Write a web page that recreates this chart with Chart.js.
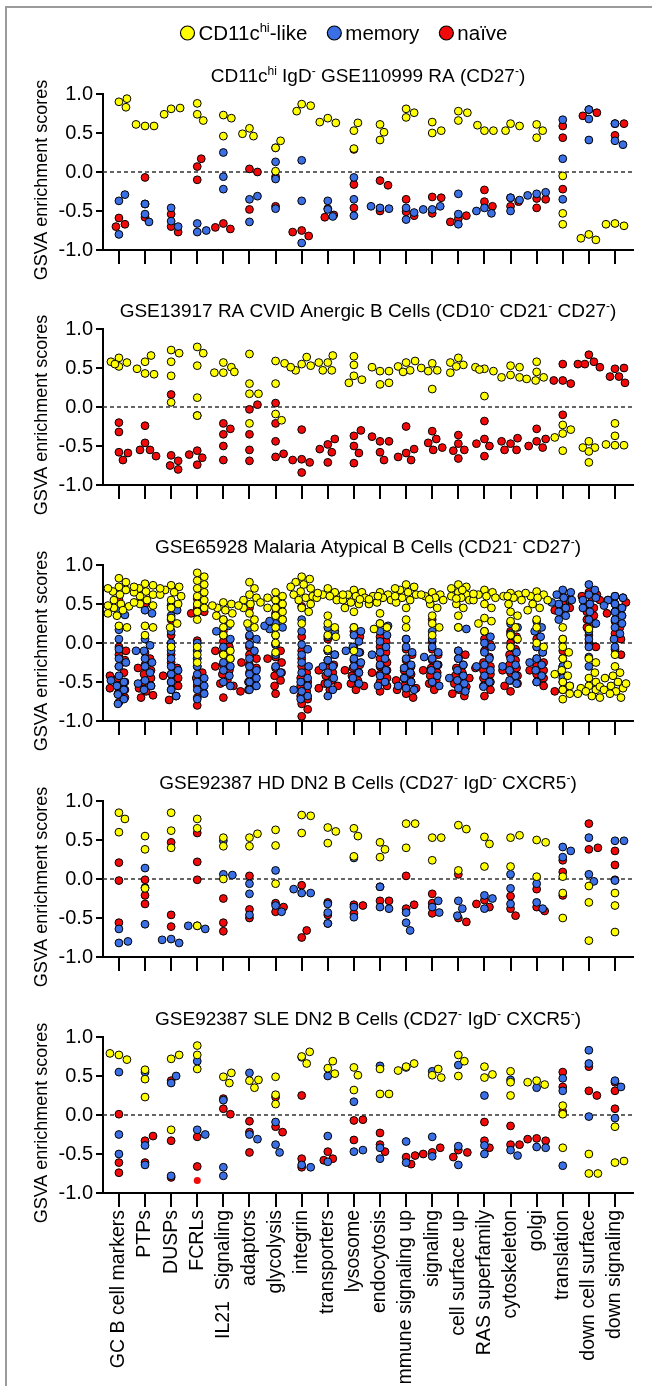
<!DOCTYPE html>
<html><head><meta charset="utf-8">
<script src="https://cdn.jsdelivr.net/npm/chart.js@4.4.0/dist/chart.umd.min.js"></script>
<style>
html,body{margin:0;padding:0;background:#fff;}
body{width:652px;height:1386px;position:relative;overflow:hidden;}
canvas{position:absolute;left:0;}
#frame{position:absolute;left:5px;top:6px;width:700px;height:1420px;border-left:2px solid #9b9b9b;border-top:2px solid #9b9b9b;}
</style></head><body>
<div id="frame"></div>
<canvas id="c1"></canvas><canvas id="c2"></canvas><canvas id="c3"></canvas><canvas id="c4"></canvas><canvas id="c5"></canvas>
<script>
// ---------------- DATA ----------------
const categories = ["GC B cell markers","PTPs","DUSPs","FCRLs","IL21  Signaling","adaptors","glycolysis","integrin","transporters","lysosome","endocytosis","immune signaling up","signaling","cell surface up","RAS superfamily","cytoskeleton","golgi","translation","down cell surface","down signaling"];
const yTickValues = [-1,-0.5,0,0.5,1];
const legendLabels = ["CD11c^{hi}-like","memory","naïve"];
const panelTitles = [
 "CD11c^{hi} IgD^{-} GSE110999 RA (CD27^{-})",
 "GSE13917 RA CVID Anergic B Cells (CD10^{-} CD21^{-} CD27^{-})",
 "GSE65928 Malaria Atypical B Cells (CD21^{-} CD27^{-})",
 "GSE92387 HD DN2 B Cells (CD27^{-} IgD^{-} CXCR5^{-})",
 "GSE92387 SLE DN2 B Cells (CD27^{-} IgD^{-} CXCR5^{-})"
];
const yAxisTitle = "GSVA enrichment scores";

// Panel 1
const p1CD11c = [[0.90,0.83,0.94],[0.59,0.59,0.61],[0.81,0.82,0.74],[0.88,0.74,0.66],[0.73,0.69,0.46],[0.56,0.46,0.49],[0.31,0.40,0.01],[0.87,0.85,0.78],[0.69,0.63,0.64],[0.53,0.63,0.30],[0.61,0.51,0.41],[0.81,0.76,0.70],[0.64,0.50,0.53],[0.78,0.76,0.66],[0.53,0.53,0.60],[0.62,0.59,0.53],[0.61,0.53,0.44],[-0.05,-0.53,-0.67],[-0.80,-0.87,-0.85],[-0.66,-0.69,-0.67]];
const p1Memory = [[-0.37,-0.29,-0.80],[-0.41,-0.54,-0.64],[-0.46,-0.63,-0.70],[-0.66,-0.77,-0.75],[0.25,-0.06,-0.22],[-0.35,-0.31,-0.64],[0.13,-0.09,-0.47],[0.15,-0.37,-0.91],[-0.37,-0.48,-0.57],[-0.07,-0.35,-0.56],[-0.46,-0.47,-0.44],[-0.46,-0.61,-0.52],[-0.48,-0.44,-0.48],[-0.28,-0.54,-0.67],[-0.46,-0.53,-0.50],[-0.33,-0.36,-0.50],[-0.28,-0.26,-0.30],[0.67,0.17,-0.35],[0.80,0.68,0.41],[0.62,0.40,0.35]];
const p1Naive = [[-0.59,-0.67,-0.70],[-0.07,-0.41,-0.58],[-0.54,-0.70,-0.77],[0.07,0.17,-0.10],[-0.66,-0.73,-0.71],[0.04,0.00,-0.48],[0.31,-0.06,-0.44],[-0.75,-0.82,-0.77],[-0.47,-0.55,-0.58],[0.29,-0.16,-0.46],[-0.11,-0.17,-0.50],[-0.35,-0.51,-0.56],[-0.32,-0.33,-0.53],[-0.60,-0.56,-0.64],[-0.23,-0.38,-0.44],[-0.33,-0.38,-0.44],[-0.34,-0.35,-0.46],[0.59,0.44,-0.22],[0.80,0.76,0.72],[0.62,0.62,0.47]];

// Panel 2
const p2CD11c = [[0.63,0.57,0.52,0.58,0.55],[0.58,0.66,0.43,0.42,0.49],[0.73,0.69,0.58,0.40,0.06],[0.77,0.69,0.53,0.12,-0.11],[0.57,0.51,0.44,0.44,0.45],[0.68,0.30,0.17,0.17,-0.21],[0.59,0.56,0.30,-0.09,-0.17],[0.55,0.64,0.53,0.47,0.51],[0.57,0.66,0.47,0.47,0.57],[0.54,0.65,0.40,0.35,0.31],[0.46,0.46,0.51,0.29,0.31],[0.57,0.59,0.52,0.47,0.45],[0.56,0.47,0.46,0.23,0.50],[0.63,0.54,0.57,0.52,0.44],[0.49,0.46,0.51,0.14,0.48],[0.53,0.51,0.41,0.38,0.38],[0.58,0.45,0.38,0.34,0.36],[-0.23,-0.34,-0.29,-0.39,-0.56],[-0.44,-0.52,-0.52,-0.57,-0.71],[-0.21,-0.37,-0.49,-0.49,-0.48]];
const p2Memory = [[],[],[],[],[],[],[],[],[],[],[],[],[],[],[],[],[],[],[],[]];
const p2Naive = [[-0.20,-0.32,-0.58,-0.59,-0.68],[-0.24,-0.46,-0.55,-0.55,-0.63],[0.16,-0.62,-0.69,-0.75,-0.80],[-0.11,-0.56,-0.65,-0.61,-0.74],[-0.21,-0.28,-0.35,-0.50,-0.68],[-0.03,0.03,-0.35,-0.55,-0.69],[0.05,-0.21,-0.44,-0.64,-0.60],[-0.29,-0.67,-0.71,-0.68,-0.84],[-0.48,-0.41,-0.58,-0.54,-0.71],[-0.37,-0.30,-0.50,-0.59,-0.72],[-0.44,-0.44,-0.38,-0.58,-0.68],[-0.25,-0.59,-0.54,-0.64,-0.68],[-0.31,-0.41,-0.46,-0.55,-0.52],[-0.36,-0.47,-0.55,-0.56,-0.66],[-0.18,-0.41,-0.63,-0.50,-0.47],[-0.47,-0.40,-0.44,-0.55,-0.55],[-0.28,-0.44,-0.41,-0.52,-0.50],[0.55,0.34,0.30,0.34,-0.10],[0.67,0.58,0.55,0.55,0.51],[0.49,0.50,0.39,0.39,0.31]];

// Panel 3
const p3CD11c = [
 [0.83,0.78,0.72,0.68,0.66,0.62,0.55,0.5,0.47,0.45,0.42,0.38,0.35,0.22,0.2,0.48,0.7],
 [0.76,0.74,0.7,0.66,0.62,0.6,0.55,0.5,0.48,0.22,0.2,0.1,0.65,0.72,0.52],
 [0.74,0.72,0.68,0.65,0.6,0.55,0.5,0.45,0.32,0.25,0.2,-0.05,0.62,0.7],
 [0.9,0.85,0.8,0.75,0.7,0.65,0.6,0.55,0.5,0.45,0.4,0.3,-0.05,-0.15,-0.25],
 [0.52,0.5,0.45,0.42,0.38,0.3,0.25,0.2,0.1,-0.15,-0.2,-0.1,0.48,0.35],
 [0.78,0.7,0.62,0.58,0.55,0.5,0.45,0.38,0.3,0.25,0.2,0.52,0.48],
 [0.65,0.6,0.55,0.5,0.45,0.4,0.35,0.3,0.2,0.1,0.0,-0.12,0.58,0.45],
 [0.85,0.82,0.78,0.75,0.7,0.66,0.62,0.58,0.55,0.5,0.45,0.4,0.25,0.72,0.6],
 [0.7,0.65,0.62,0.6,0.55,0.35,0.25,0.2,0.1,0.08,-0.08,0.58,0.64],
 [0.68,0.65,0.62,0.6,0.58,0.55,0.52,0.5,0.45,0.4,0.2,-0.1,0.62,0.56],
 [0.65,0.62,0.6,0.58,0.55,0.52,0.5,0.38,0.25,0.2,0.18,0.6,0.56],
 [0.75,0.72,0.68,0.65,0.62,0.58,0.55,0.52,0.45,0.3,0.2,0.7,0.6],
 [0.65,0.62,0.6,0.58,0.55,0.5,0.45,0.35,0.25,0.2,0.1,0.62,0.56],
 [0.75,0.72,0.7,0.65,0.62,0.6,0.58,0.55,0.5,0.45,0.35,0.2,0.68,0.57],
 [0.68,0.65,0.62,0.6,0.58,0.55,0.5,0.45,0.32,0.28,0.25,0.15,0.63],
 [0.64,0.62,0.6,0.58,0.55,0.5,0.4,0.35,0.28,0.2,0.1,0.05,-0.05,0.6],
 [0.66,0.62,0.6,0.58,0.55,0.5,0.45,0.42,0.3,0.2,0.0,-0.05,0.64],
 [0.2,0.05,-0.05,-0.12,-0.2,-0.28,-0.35,-0.42,-0.5,-0.55,-0.6,-0.65,-0.72,-0.4],
 [0.18,-0.2,-0.25,-0.45,-0.5,-0.55,-0.58,-0.6,-0.62,-0.65,-0.68,-0.7,-0.38,-0.56],
 [-0.15,-0.3,-0.38,-0.42,-0.45,-0.5,-0.55,-0.58,-0.6,-0.62,-0.65,-0.7,-0.52]
];
const p3Memory = [
 [0.42,0.36,0.17,0.05,-0.08,-0.2,-0.3,-0.42,-0.5,-0.55,-0.6,-0.66,-0.72,-0.78,-0.48,-0.25],
 [0.42,0.38,0.05,-0.03,-0.1,-0.2,-0.25,-0.3,-0.38,-0.48,-0.55,-0.6,-0.1,-0.52],
 [0.48,0.42,0.35,0.15,0.0,-0.1,-0.2,-0.3,-0.4,-0.5,-0.6,-0.68,-0.35],
 [0.0,-0.1,-0.2,-0.3,-0.4,-0.45,-0.5,-0.55,-0.6,-0.65,-0.72,0.4],
 [0.3,0.22,0.1,0.05,-0.05,-0.15,-0.25,-0.3,-0.35,-0.42,-0.5,-0.55,-0.2,0.15],
 [0.2,0.1,0.05,-0.02,-0.1,-0.2,-0.3,-0.4,-0.45,-0.5,-0.55,-0.6,-0.35],
 [0.55,0.48,0.35,0.3,0.25,0.2,0.18,0.1,-0.02,-0.15,-0.3,-0.38,0.22,0.28],
 [0.3,0.15,-0.02,-0.08,-0.15,-0.25,-0.3,-0.38,-0.45,-0.5,-0.55,-0.62,-0.68,-0.72,-0.6],
 [0.2,0.15,0.08,-0.1,-0.15,-0.22,-0.3,-0.38,-0.45,-0.52,-0.6,-0.68,-0.3],
 [0.2,0.15,0.1,0.02,-0.05,-0.12,-0.2,-0.25,-0.3,-0.38,-0.45,-0.52,-0.1],
 [0.25,0.22,0.15,0.1,0.02,-0.05,-0.12,-0.2,-0.28,-0.35,-0.42,-0.5,-0.55,-0.15],
 [0.05,-0.05,-0.12,-0.2,-0.28,-0.32,-0.38,-0.45,-0.5,-0.58,-0.6,-0.55],
 [0.15,0.05,-0.05,-0.12,-0.2,-0.28,-0.35,-0.42,-0.5,-0.55,-0.18],
 [0.2,0.18,-0.1,-0.2,-0.28,-0.35,-0.42,-0.48,-0.52,-0.58,-0.62,-0.45],
 [0.15,0.08,0.0,-0.05,-0.12,-0.2,-0.28,-0.35,-0.42,-0.5,-0.56,-0.3],
 [0.25,0.2,0.12,0.05,-0.05,-0.12,-0.2,-0.28,-0.35,-0.42,-0.48,-0.52,-0.3],
 [0.28,0.2,0.15,0.08,-0.05,-0.12,-0.2,-0.28,-0.35,-0.42,-0.5,-0.25],
 [0.68,0.65,0.62,0.58,0.55,0.5,0.45,0.4,0.35,0.3,-0.3,-0.45,0.52],
 [0.75,0.68,0.62,0.58,0.55,0.5,0.45,0.4,0.3,0.25,0.15,0.05,-0.05,-0.18,-0.3],
 [0.6,0.58,0.55,0.5,0.45,0.4,0.35,0.3,0.25,0.2,0.12,0.05,-0.05,0.48]
];
const p3Naive = [
 [0.56,-0.05,-0.1,-0.15,-0.22,-0.3,-0.38,-0.45,-0.5,-0.55,-0.6,-0.65,-0.7,-0.76,-0.42,-0.58],
 [0.5,-0.12,-0.2,-0.28,-0.35,-0.4,-0.45,-0.5,-0.55,-0.58,-0.62,-0.67,-0.7,-0.32],
 [0.48,0.3,0.1,-0.05,-0.15,-0.25,-0.32,-0.4,-0.45,-0.5,-0.55,-0.6,-0.68,-0.73,-0.42],
 [0.57,0.45,0.4,0.38,0.03,-0.1,-0.2,-0.3,-0.38,-0.45,-0.55,-0.62,-0.7,-0.8],
 [0.15,0.02,-0.05,-0.12,-0.2,-0.28,-0.35,-0.4,-0.48,-0.52,-0.55,-0.7,-0.3,-0.1],
 [0.45,0.08,-0.05,-0.15,-0.2,-0.28,-0.32,-0.38,-0.45,-0.5,-0.55,-0.6,-0.62,-0.25],
 [0.38,-0.02,-0.1,-0.18,-0.25,-0.32,-0.38,-0.42,-0.48,-0.55,-0.65,-0.2],
 [0.47,0.08,-0.1,-0.2,-0.3,-0.38,-0.45,-0.5,-0.55,-0.62,-0.68,-0.72,-0.78,-0.85,-0.94],
 [0.05,-0.1,-0.15,-0.22,-0.28,-0.32,-0.38,-0.42,-0.48,-0.52,-0.55,-0.58,-0.6,-0.35],
 [0.15,0.08,-0.05,-0.12,-0.22,-0.28,-0.32,-0.38,-0.42,-0.48,-0.52,-0.55,-0.6,-0.35],
 [0.08,0.02,-0.05,-0.12,-0.2,-0.25,-0.3,-0.35,-0.4,-0.45,-0.5,-0.55,-0.62,-0.38],
 [0.05,-0.08,-0.15,-0.22,-0.3,-0.35,-0.4,-0.45,-0.5,-0.55,-0.58,-0.6,-0.65,-0.7,-0.48],
 [0.3,0.02,-0.08,-0.15,-0.22,-0.28,-0.32,-0.38,-0.42,-0.48,-0.52,-0.6,-0.35],
 [-0.1,-0.15,-0.2,-0.28,-0.32,-0.38,-0.42,-0.48,-0.52,-0.56,-0.6,-0.65,-0.68,-0.45],
 [0.05,-0.02,-0.1,-0.18,-0.25,-0.3,-0.35,-0.4,-0.45,-0.5,-0.55,-0.6,-0.68,-0.32],
 [0.15,0.08,0.0,-0.08,-0.15,-0.22,-0.28,-0.32,-0.38,-0.42,-0.48,-0.52,-0.55,-0.62,-0.35],
 [0.15,0.05,-0.05,-0.12,-0.2,-0.25,-0.3,-0.35,-0.4,-0.45,-0.5,-0.55,-0.35],
 [0.6,0.55,0.5,0.45,0.4,0.05,-0.1,-0.2,-0.3,-0.4,-0.5,-0.55,-0.6,-0.62,0.42],
 [0.65,0.62,0.6,0.58,0.55,0.5,0.45,0.4,0.35,0.3,0.25,0.2,0.1,0.0,-0.05],
 [0.6,0.58,0.55,0.5,0.45,0.4,0.35,0.28,0.2,0.12,0.05,-0.08,-0.15,0.38,0.52]
];

// Panel 4
const p4CD11c = [[0.85,0.77,0.60],[0.55,0.38,-0.12],[0.85,0.62,0.40],[0.77,0.65,-0.60],[0.53,0.42,0.00],[0.53,0.58,0.42],[0.63,0.43,-0.06],[0.82,0.81,0.59],[0.66,0.61,0.46],[0.65,0.55,0.29],[0.47,0.38,0.28],[0.71,0.71,0.40],[0.53,0.53,0.24],[0.69,0.64,0.11],[0.54,0.45,0.16],[0.53,0.56,0.16],[0.50,0.47,0.03],[0.03,-0.18,-0.50],[-0.09,-0.30,-0.79],[-0.18,-0.34,-0.68]];
const p4Memory = [[-0.64,-0.82,-0.80],[0.14,-0.11,-0.58],[-0.77,-0.82,-0.78],[-0.60,-0.64,-0.60],[0.49,0.06,0.05],[-0.06,-0.19,-0.46],[0.11,-0.34,-0.42],[-0.18,-0.18,-0.13],[-0.32,-0.43,-0.57],[0.27,-0.36,-0.49],[-0.10,-0.36,-0.38],[-0.43,-0.56,-0.66],[-0.36,-0.28,-0.43],[-0.28,-0.38,-0.47],[-0.21,-0.38,-0.25],[0.06,-0.12,-0.32],[-0.06,-0.30,-0.38],[0.41,0.36,0.28],[0.53,0.06,-0.03],[0.49,0.49,-0.02]];
const p4Naive = [[0.21,-0.02,-0.56],[-0.01,-0.21,-0.32],[0.47,-0.46,-0.61],[0.59,0.22,-0.01],[-0.25,-0.56,-0.67],[0.04,-0.39,-0.50],[-0.31,-0.36,-0.42],[-0.08,-0.75,-0.66],[-0.30,-0.46,-0.57],[-0.33,-0.34,-0.44],[-0.10,-0.28,-0.28],[0.04,-0.38,-0.33],[-0.19,-0.31,-0.44],[0.06,-0.50,-0.55],[-0.27,-0.36,-0.32],[-0.22,-0.38,-0.47],[-0.13,-0.36,-0.41],[0.24,0.09,-0.21],[0.71,0.38,0.40],[0.36,0.18,-0.01]];

// Panel 5
const p5CD11c = [[0.77,0.71,0.79],[0.58,0.46,0.23],[0.72,0.77,-0.19],[0.77,0.89,0.59],[0.49,0.54,0.41],[0.44,0.45,0.35],[0.49,0.26,0.14],[0.75,0.81,0.66],[0.60,0.69,0.53],[0.61,0.51,0.32],[0.59,0.27,0.27],[0.62,0.66,0.57],[0.51,0.48,0.59],[0.77,0.69,0.50],[0.48,0.52,0.62],[0.42,0.56,0.25],[0.44,0.39,0.42],[0.12,0.01,-0.42],[-0.50,-0.75,-0.75],[-0.15,-0.61,-0.59]];
const p5Memory = [[0.55,-0.25,-0.50],[0.55,-0.39,-0.64],[0.41,0.50,-0.78],[0.69,-0.19,-0.25],[0.19,-0.78,-0.67],[0.54,-0.25,-0.31],[-0.09,-0.38,-0.48],[0.74,-0.64,-0.67],[0.50,-0.27,-0.60],[0.17,-0.47,-0.45],[0.63,-0.42,-0.56],[0.61,-0.34,-0.61],[0.56,-0.28,-0.53],[0.64,-0.40,-0.64],[0.25,-0.39,-0.50],[0.45,-0.45,-0.52],[0.35,-0.41,-0.42],[0.47,0.31,-0.65],[0.83,0.66,-0.02],[0.44,0.36,-0.04]];
const p5Naive = [[0.01,-0.61,-0.74],[-0.33,-0.27,-0.61],[0.44,-0.33,-0.80],[-0.28,-0.66],[0.21,0.08,0.01],[-0.08,-0.22,-0.48],[0.23,-0.15,-0.22],[0.25,-0.67,-0.56],[-0.47,-0.56,-0.58],[-0.07,-0.06,-0.32],[-0.23,-0.38,-0.47],[-0.54,-0.52,-0.63],[-0.48,-0.42,-0.50],[-0.45,-0.48,-0.54],[-0.09,-0.33,-0.42],[-0.14,-0.38,-0.38],[-0.30,-0.33,-0.31],[0.55,0.36,0.04],[0.62,0.31,0.25],[0.42,0.31,0.08]];
const p5NaiveNoOutline = [[],[],[],[-0.84],[],[],[],[],[],[],[],[],[],[],[],[],[],[],[],[]];

// ---------------- RENDER ----------------
const FONT = "'Liberation Sans', Arial, Helvetica, sans-serif";
const FS = 20, XFS = 19.5, TFS = 19, YTFS = 18, LFS = 20.5;
Chart.defaults.font.family = FONT;
Chart.defaults.font.size = FS;
Chart.defaults.color = '#000';
const COL = {y:'#ffff00', b:'#3b6fe6', r:'#f20a0a'};
const PX_X = 26.1, PX_Y = 78;

function swarm(groups, diam, maxOff){
  const pts=[];
  groups.forEach((vals,ci)=>{
    const placed=[];
    vals.forEach(v=>{
      let best=0,bestD=-1;
      for(let k=0;k<=2*maxOff;k++){
        const off = k===0?0:(k%2?1:-1)*Math.ceil(k/2);
        let md=Infinity;
        for(const p of placed){const d=Math.hypot(off-p.o,(v-p.v)*PX_Y); if(d<md) md=d;}
        if(md>=diam){best=off;bestD=md;break;}
        if(md>bestD){bestD=md;best=off;}
      }
      placed.push({o:best,v});
      pts.push({x:ci+best/PX_X,y:v});
    });
  });
  return pts;
}

function parseRich(str){
  const parts=[]; const re=/\^\{([^}]*)\}/g; let last=0,m;
  while((m=re.exec(str))){ if(m.index>last) parts.push({t:str.slice(last,m.index),s:false}); parts.push({t:m[1],s:true}); last=re.lastIndex; }
  if(last<str.length) parts.push({t:str.slice(last),s:false});
  return parts;
}
function richWidth(ctx,str,size){
  const parts=parseRich(str); let w=0;
  parts.forEach(p=>{ctx.font=(p.s?Math.round(size*0.62):size)+'px '+FONT; w+=ctx.measureText(p.t).width;});
  return w;
}
function drawRich(ctx,str,x,baseline,size){
  const parts=parseRich(str);
  ctx.textAlign='left'; ctx.textBaseline='alphabetic'; ctx.fillStyle='#000';
  parts.forEach(p=>{
    ctx.font=(p.s?Math.round(size*0.62):size)+'px '+FONT;
    ctx.fillText(p.t,x,p.s?baseline-size*0.38:baseline);
    x+=ctx.measureText(p.t).width;
  });
}

const panels = [
  {id:'c1', y1:94,   title:panelTitles[0], sets:[p1CD11c,p1Memory,p1Naive], legend:true},
  {id:'c2', y1:329,  title:panelTitles[1], sets:[p2CD11c,p2Memory,p2Naive]},
  {id:'c3', y1:565,  title:panelTitles[2], sets:[p3CD11c,p3Memory,p3Naive], dense:true},
  {id:'c4', y1:801,  title:panelTitles[3], sets:[p4CD11c,p4Memory,p4Naive]},
  {id:'c5', y1:1037, title:panelTitles[4], sets:[p5CD11c,p5Memory,p5Naive], extra:p5NaiveNoOutline, last:true}
];
const PLOT_H = 156;

panels.forEach(p=>{
  const cv=document.getElementById(p.id);
  const top = p.y1 - 94;
  const height = p.last ? (1386 - top) : 320;
  cv.width=652; cv.height=height; cv.style.top=top+'px'; cv.style.width='652px'; cv.style.height=height+'px';
  const xH = p.last?190:15;
  const padTop = 94;
  const padBottom = height - padTop - PLOT_H - xH;
  const colors=[COL.y,COL.b,COL.r];
  const diam = p.dense?7.5:8.5, maxOff = 11;
  const datasets = p.sets.map((s,i)=>({data:swarm(s,diam,maxOff), backgroundColor:colors[i], borderColor:'#000', borderWidth:1, pointRadius:3.9, pointHoverRadius:3.9}));
  if(p.extra) datasets.push({data:swarm(p.extra,diam,maxOff), backgroundColor:COL.r, borderColor:COL.r, borderWidth:0, pointRadius:3.5, pointHoverRadius:3.5});
  const deco = {
    id:'deco',
    beforeDatasetsDraw(chart){
      const ctx=chart.ctx, a=chart.chartArea, y0=chart.scales.y.getPixelForValue(0);
      ctx.save(); ctx.strokeStyle='#333'; ctx.lineWidth=1.5; ctx.setLineDash([4,3]);
      ctx.beginPath(); ctx.moveTo(a.left,y0); ctx.lineTo(a.right,y0); ctx.stroke(); ctx.restore();
    },
    afterDraw(chart){
      const ctx=chart.ctx, a=chart.chartArea;
      ctx.save();
      const tw=richWidth(ctx,p.title,TFS);
      drawRich(ctx,p.title,(a.left+a.right)/2 - tw/2, a.top-12, TFS);
      ctx.save(); ctx.translate(42,(a.top+a.bottom)/2+8); ctx.rotate(-Math.PI/2);
      ctx.font=YTFS+'px '+FONT; ctx.textAlign='center'; ctx.textBaseline='middle'; ctx.fillStyle='#000';
      ctx.fillText(yAxisTitle,0,0); ctx.restore();
      if(p.legend){
        const cy=33, r=7, gapC=4, gapI=20;
        const widths=legendLabels.map(l=>richWidth(ctx,l,LFS));
        const total=widths.reduce((s,w)=>s+2*r+gapC+w,0)+gapI*(legendLabels.length-1);
        let x=344-total/2;
        legendLabels.forEach((l,i)=>{
          ctx.beginPath(); ctx.arc(x+r,cy,r,0,Math.PI*2); ctx.fillStyle=colors[i]; ctx.fill();
          ctx.lineWidth=1.2; ctx.strokeStyle='#000'; ctx.stroke();
          x+=2*r+gapC;
          drawRich(ctx,l,x,cy+7,LFS);
          x+=widths[i]+gapI;
        });
      }
      ctx.restore();
    }
  };
  new Chart(cv,{
    type:'scatter',
    data:{datasets},
    plugins:[deco],
    options:{
      responsive:false, animation:false, devicePixelRatio:1,
      layout:{padding:{top:padTop,left:0,right:19,bottom:padBottom}},
      plugins:{legend:{display:false},tooltip:{enabled:false}},
      events:[],
      scales:{
        x:{type:'linear',min:-0.61,max:19.69,
           afterBuildTicks:s=>{s.ticks=categories.map((c,i)=>({value:i}));},
           afterFit:s=>{s.height=xH;},
           ticks:{display:!!p.last,autoSkip:false,maxRotation:90,minRotation:90,padding:3,font:{size:XFS},color:'#000',callback:v=>categories[v]},
           grid:{drawOnChartArea:false,drawTicks:true,tickLength:14,color:'#000',lineWidth:2},
           border:{display:true,color:'#000',width:2}},
        y:{min:-1,max:1,
           afterBuildTicks:s=>{s.ticks=yTickValues.map(v=>({value:v}));},
           afterFit:s=>{s.width=103;},
           ticks:{padding:3,font:{size:FS},color:'#000',callback:v=>v.toFixed(1)},
           grid:{drawOnChartArea:false,drawTicks:true,tickLength:7,color:'#000',lineWidth:2},
           border:{display:true,color:'#000',width:2}}
      }
    }
  });
});
</script>
</body></html>
